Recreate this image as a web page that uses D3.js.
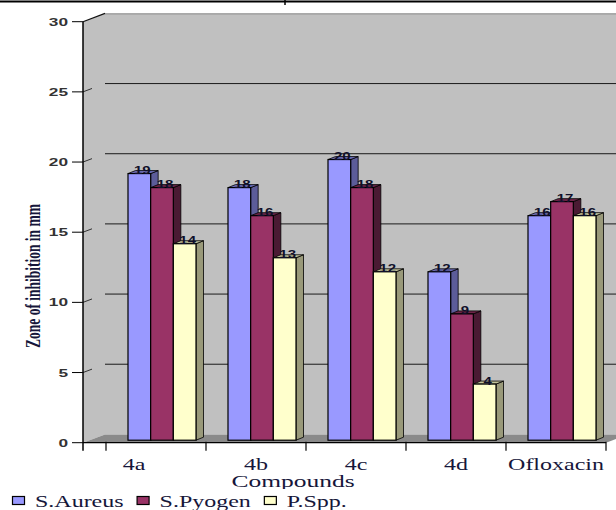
<!DOCTYPE html>
<html><head><meta charset="utf-8">
<script src="https://cdn.jsdelivr.net/npm/d3@7"></script>
<style>html,body{margin:0;padding:0;background:#fff;} svg{display:block;}</style>
</head><body>
<svg id="chart" width="616" height="510"></svg>
<script>
// Zone of inhibition (mm) per compound and organism
const categories = ["4a", "4b", "4c", "4d", "Ofloxacin"];
const seriesNames = ["S.Aureus", "S.Pyogen", "P.Spp."];
const sAureus = [19, 18, 20, 12, 16];
const sPyogen = [18, 16, 18, 9, 17];
const pSpp = [14, 13, 12, 4, 16];
const yTicks = [0, 5, 10, 15, 20, 25, 30];
const seriesValues = [sAureus, sPyogen, pSpp];

const frontFill = ["#9999ff", "#993366", "#ffffcc"];
const sideFill = ["#5c5c99", "#4a1a33", "#99997a"];
const topFill = ["#6e6eb8", "#6b2447", "#c4c49c"];

const svg = d3.select("#chart");
const W = 616, H = 510;
const stretch = 1.5; // text is drawn horizontally widened

// Front plane geometry of the 3-D box
const axisX = 83;
const wallDx = 22, wallDy = -8.3;     // back wall offset
const barDx = 6, barDy = -2.5;        // bar plane offset
const depthDx = 7.5, depthDy = -3;    // bar thickness

const y = d3.scaleLinear().domain([0, 30]).range([442.7, 21.7]);
const x = d3.scaleBand().domain(categories).range([106, 606])
  .paddingInner(0.32).paddingOuter(0.16);
const xs = d3.scaleBand().domain(seriesNames).range([0, x.bandwidth()]);
const bands = d3.scaleBand().domain(categories).range([106, 606]).padding(0);

const serif = "'Liberation Serif','Times New Roman',serif";
const sans = "'Liberation Sans',Arial,sans-serif";
const textInk = "#16163a";

// top rule
svg.append("line").attr("x1", 0).attr("x2", W).attr("y1", 1.5).attr("y2", 1.5)
  .attr("stroke", "#000").attr("stroke-width", 2);
svg.append("line").attr("x1", 285).attr("x2", 285).attr("y1", 0).attr("y2", 5)
  .attr("stroke", "#000").attr("stroke-width", 1.5);

const yTop = y(30), yBot = y(0);
// side wall
svg.append("polygon")
  .attr("points", [[axisX, yTop], [axisX + wallDx, yTop + wallDy], [axisX + wallDx, yBot + wallDy], [axisX, yBot]].join(" "))
  .attr("fill", "#c0c0c0");
// back wall
svg.append("rect").attr("x", axisX + wallDx).attr("y", yTop + wallDy)
  .attr("width", W - axisX - wallDx).attr("height", yBot - yTop)
  .attr("fill", "#c0c0c0");
svg.append("line").attr("x1", axisX + wallDx).attr("x2", W)
  .attr("y1", yTop + wallDy + 0.5).attr("y2", yTop + wallDy + 0.5)
  .attr("stroke", "#8a8a8a").attr("stroke-width", 1);
svg.append("line").attr("x1", axisX).attr("y1", yTop).attr("x2", axisX + wallDx).attr("y2", yTop + wallDy)
  .attr("stroke", "#111").attr("stroke-width", 1.2);

// gridlines on the back wall and stubs on the side wall
const grid = yTicks.filter(d => d > 0 && d < 30);
svg.append("g").selectAll("line").data(grid).join("line")
  .attr("x1", axisX + wallDx).attr("x2", W)
  .attr("y1", d => y(d) + wallDy).attr("y2", d => y(d) + wallDy)
  .attr("stroke", "#1a1a1a").attr("stroke-width", 1);
svg.append("g").selectAll("line").data(grid).join("line")
  .attr("x1", axisX).attr("x2", axisX + 9)
  .attr("y1", d => y(d)).attr("y2", d => y(d) - 3.4)
  .attr("stroke", "#333").attr("stroke-width", 1);

// floor
svg.append("polygon")
  .attr("points", [[axisX, yBot], [axisX + wallDx, yBot + wallDy], [606 + wallDx, yBot + wallDy], [606, yBot]].join(" "))
  .attr("fill", "#8a8a8a");

// bars (3-D prisms)
const barsG = svg.append("g");
categories.forEach((c, ci) => {
  seriesNames.forEach((s, si) => {
    const v = seriesValues[si][ci];
    const x0 = x(c) + xs(s) + barDx, x1 = x0 + xs.bandwidth();
    const yt = y(v) + barDy, yb = y(0) + barDy;
    const g = barsG.append("g");
    g.append("polygon")
      .attr("points", [[x1, yt], [x1 + depthDx, yt + depthDy], [x1 + depthDx, yb + depthDy], [x1, yb]].join(" "))
      .attr("fill", sideFill[si]).attr("stroke", "#000").attr("stroke-width", 0.8);
    g.append("polygon")
      .attr("points", [[x0, yt], [x0 + depthDx, yt + depthDy], [x1 + depthDx, yt + depthDy], [x1, yt]].join(" "))
      .attr("fill", topFill[si]).attr("stroke", "#000").attr("stroke-width", 0.8);
    g.append("rect").attr("x", x0).attr("y", yt).attr("width", x1 - x0).attr("height", yb - yt)
      .attr("fill", frontFill[si]).attr("stroke", "#000").attr("stroke-width", 1.2);
  });
});

// value labels
const labelsG = svg.append("g");
categories.forEach((c, ci) => {
  seriesNames.forEach((s, si) => {
    const v = seriesValues[si][ci];
    const cx = x(c) + xs(s) + barDx + xs.bandwidth() / 2 + 3;
    labelsG.append("text")
      .attr("transform", `translate(${cx},${y(v) + barDy + 0.5}) scale(${stretch},1)`)
      .attr("text-anchor", "middle").attr("font-family", sans).attr("font-size", 10)
      .attr("font-weight", "bold").attr("fill", "#10102a").text(v);
  });
});

// value axis
svg.append("line").attr("x1", axisX).attr("x2", axisX).attr("y1", yTop).attr("y2", yBot + 8)
  .attr("stroke", "#000").attr("stroke-width", 1.5);
svg.append("g").selectAll("line").data(yTicks).join("line")
  .attr("x1", axisX - 11).attr("x2", axisX).attr("y1", d => y(d)).attr("y2", d => y(d))
  .attr("stroke", "#000").attr("stroke-width", 1);
svg.append("g").selectAll("text").data(yTicks).join("text")
  .attr("transform", d => `translate(${axisX - 15},${y(d) + 4}) scale(${stretch},1)`)
  .attr("text-anchor", "end").attr("font-family", sans).attr("font-size", 11.5)
  .attr("font-weight", "bold").attr("fill", "#333").text(d => d);

// category axis
svg.append("line").attr("x1", axisX).attr("x2", 606).attr("y1", yBot).attr("y2", yBot)
  .attr("stroke", "#000").attr("stroke-width", 1.2);
const boundaries = categories.map(c => bands(c)).concat([bands.range()[1]]);
svg.append("g").selectAll("line").data(boundaries).join("line")
  .attr("x1", d => d).attr("x2", d => d).attr("y1", yBot - 1).attr("y2", yBot + 8)
  .attr("stroke", "#000").attr("stroke-width", 1.2);
const labelNudge = { "4a": -22 };
svg.append("g").selectAll("text").data(categories).join("text")
  .attr("transform", d => `translate(${bands(d) + bands.bandwidth() / 2 + (labelNudge[d] || 0)},470) scale(${stretch},1)`)
  .attr("text-anchor", "middle").attr("font-family", serif)
  .attr("font-size", 16).attr("fill", textInk).text(d => d);

// axis titles
svg.append("text")
  .attr("transform", `translate(293,487) scale(${stretch},1)`)
  .attr("text-anchor", "middle").attr("font-family", serif)
  .attr("font-size", 17).attr("fill", textInk).text("Compounds");
svg.append("text")
  .attr("transform", `translate(40,276) scale(${stretch},1) rotate(-90)`)
  .attr("text-anchor", "middle").attr("font-family", serif).attr("font-weight", "bold")
  .attr("font-size", 13.5).attr("fill", textInk).text("Zone of inhibition in mm");

// legend
const legend = svg.append("g");
legend.append("rect").attr("x", 0).attr("y", 489).attr("width", W).attr("height", H - 489).attr("fill", "#fff");
let lx = 12;
seriesNames.forEach((s, si) => {
  legend.append("rect").attr("x", lx + 0.5).attr("y", 496.5).attr("width", 12).attr("height", 8)
    .attr("fill", frontFill[si]).attr("stroke", "#000").attr("stroke-width", 1.2);
  const t = legend.append("text")
    .attr("transform", `translate(${lx + 23},507) scale(${stretch},1)`)
    .attr("font-family", serif).attr("font-size", 16)
    .attr("fill", textInk).text(s);
  lx += 23 + t.node().getComputedTextLength() * stretch + 13;
});
</script>
</body></html>
